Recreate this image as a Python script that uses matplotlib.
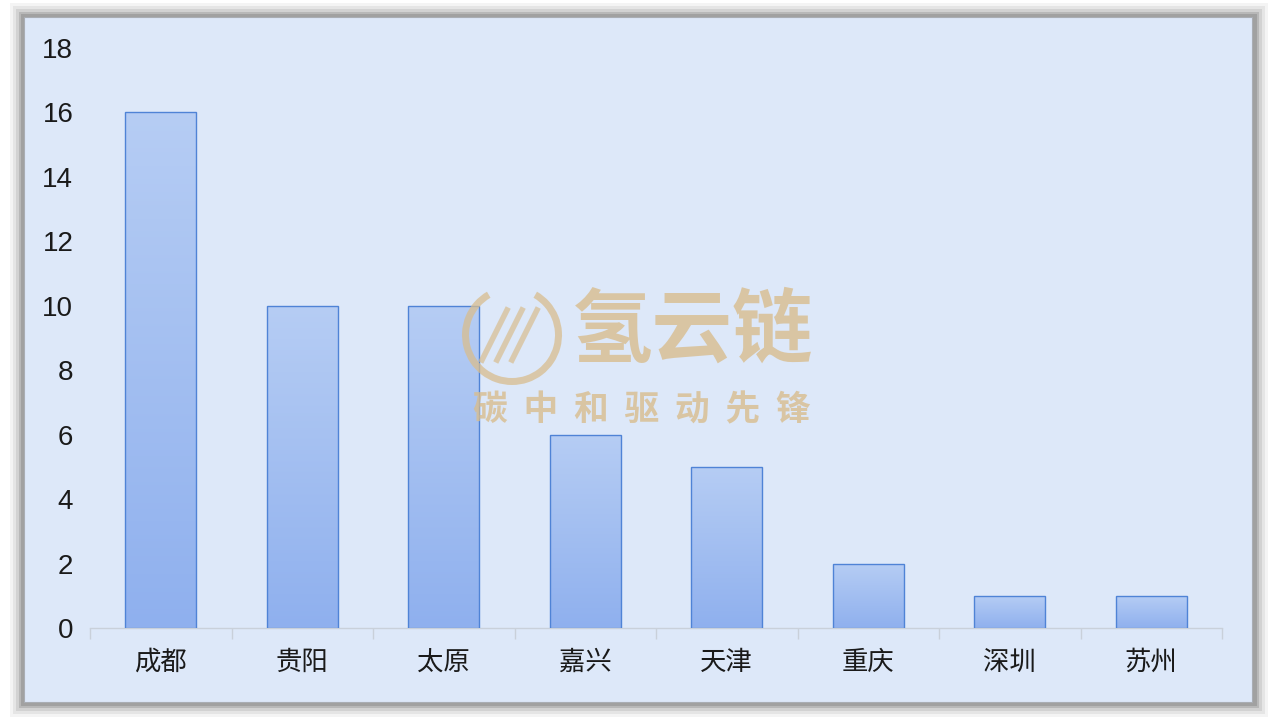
import numpy as np
import matplotlib
matplotlib.use('Agg')
import matplotlib.pyplot as plt
from matplotlib.patches import Rectangle, Wedge
from matplotlib.colors import LinearSegmentedColormap

plt.rcParams['font.family'] = ['Noto Sans CJK SC', 'DejaVu Sans']

# --- datos ---------------------------------------------------------------
ciudades = ['成都', '贵阳', '太原', '嘉兴', '天津', '重庆', '深圳', '苏州']
valores = [16, 10, 10, 6, 5, 2, 1, 1]
yticks = [0, 2, 4, 6, 8, 10, 12, 14, 16, 18]

W, H = 1278, 720
fig = plt.figure(figsize=(W / 100, H / 100), dpi=100)
fig.patch.set_facecolor('white')

# --- marco con sombra -------------------------------------------------------
px = lambda x0, y0, x1, y1: (x0 / W, 1 - y1 / H, (x1 - x0) / W, (y1 - y0) / H)
for d, a in [(14, 0.08), (11, 0.12), (8, 0.18), (5, 0.3), (3, 0.4)]:
    x, y, w, h = px(24 - d, 17 - d, 1252 + d + 2, 702 + d + 1)
    fig.patches.append(Rectangle((x, y), w, h, transform=fig.transFigure,
                                 facecolor='#7f7f7f', edgecolor='none', alpha=a, zorder=0))
x, y, w, h = px(24, 17, 1252, 702)
fig.patches.append(Rectangle((x, y), w, h, transform=fig.transFigure,
                             facecolor='#dde8f9', edgecolor='#a9adb3', lw=0.8, zorder=1))

# --- ejes ----------------------------------------------------------------------
ax = fig.add_axes([90 / W, 1 - 628 / H, 1132 / W, 580 / H])
ax.set_facecolor('none')
ax.set_zorder(2)

cmap = LinearSegmentedColormap.from_list('barra', ['#8fb0ee', '#b6cdf4'])
grad = np.linspace(0, 1, 256).reshape(-1, 1)
bars = ax.bar(range(len(ciudades)), valores, width=0.5, color='none',
              edgecolor='#4f83d6', linewidth=1.0, zorder=3)
for b in bars:
    x0, w0, h0 = b.get_x(), b.get_width(), b.get_height()
    im = ax.imshow(grad, cmap=cmap, origin='lower', aspect='auto',
                   extent=[x0, x0 + w0, 0, h0], zorder=2)
    im.set_clip_path(b)
ax.set_xlim(-0.5, len(ciudades) - 0.5)
ax.set_ylim(0, 18)

for s in ['top', 'right', 'left']:
    ax.spines[s].set_visible(False)
ax.spines['bottom'].set_color('#c9d0da')
ax.spines['bottom'].set_linewidth(1.0)

ax.set_yticks(yticks)
ax.set_yticklabels([str(v) for v in yticks], fontfamily='Liberation Sans', fontsize=20)
ax.tick_params(axis='y', length=0, pad=12, labelcolor='#1a1a1a')

ax.set_xticks(range(len(ciudades)))
ax.set_xticklabels(ciudades, fontsize=19)
ax.tick_params(axis='x', length=0, pad=15, labelcolor='#1a1a1a')
ax.set_xticks(np.arange(-0.5, len(ciudades)), minor=True)
ax.tick_params(axis='x', which='minor', length=8, color='#c9d0da', width=1.0)

# --- marca de agua --------------------------------------------------------
wm = '#d8bd8e'
cx, cy = 512, H - 335
fig.patches.append(Wedge((cx, cy), 50, 120, 420, width=7, transform=None,
                         facecolor=wm, edgecolor='none', alpha=0.75, zorder=5))
for k in range(3):
    fig.lines.append(plt.Line2D([cx - 30 + k * 15, cx - 5 + k * 15], [cy - 25, cy + 25],
                                transform=None, color=wm, lw=4, alpha=0.7, zorder=5))
fig.text(693 / W, 1 - 332 / H, '氢云链', fontsize=58, fontweight='bold', color=wm,
         alpha=0.8, ha='center', va='center', zorder=5)
fig.text(642 / W, 1 - 410 / H, '碳  中  和  驱  动  先  锋', fontsize=25, fontweight='bold',
         color=wm, alpha=0.8, ha='center', va='center', zorder=5)

fig.savefig('out.png', dpi=100)
